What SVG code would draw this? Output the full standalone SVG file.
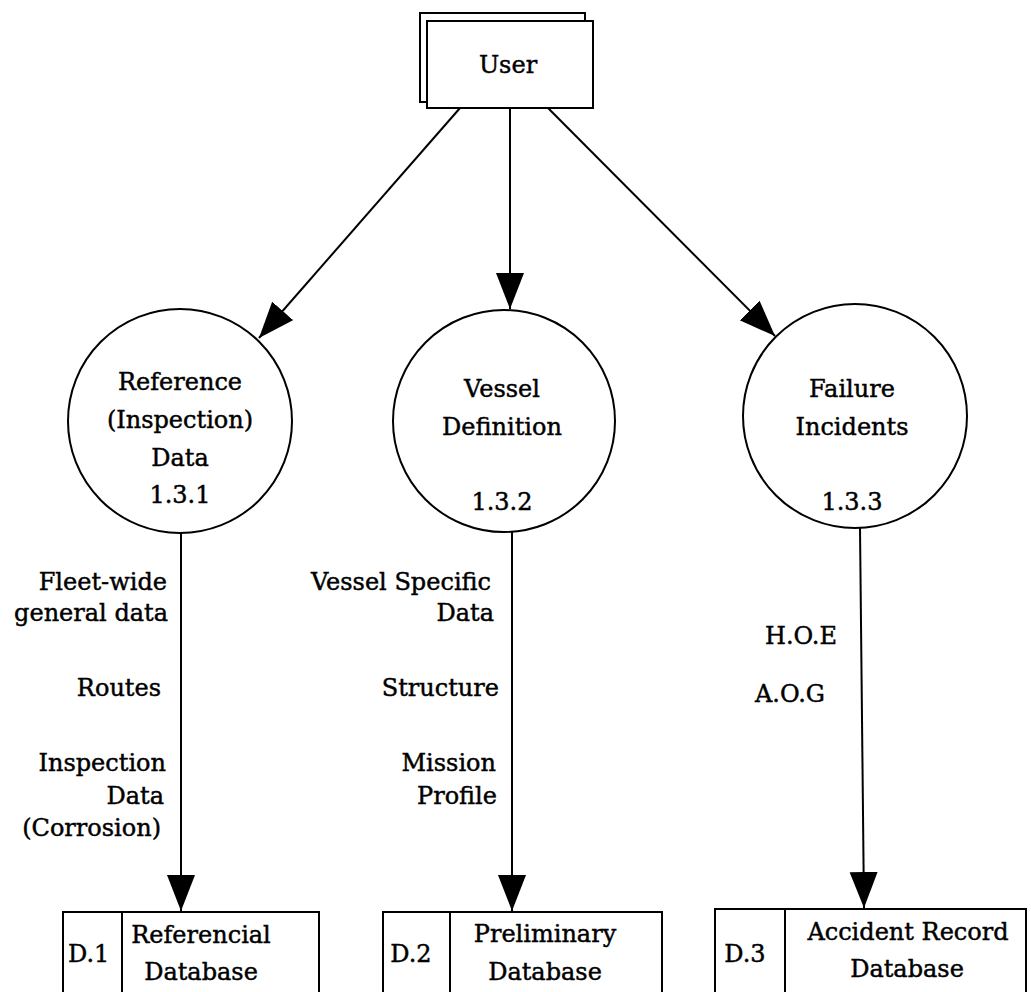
<svg xmlns="http://www.w3.org/2000/svg" width="1031" height="992" viewBox="0 0 1031 992">
<style>
text{font-family:"DejaVu Serif","Liberation Serif",serif;font-size:24px;fill:#000;stroke:#000;stroke-width:0.45}
.c{text-anchor:middle}
.e{text-anchor:end}
.s{fill:#fff;stroke:#000;stroke-width:2}
.ln{stroke:#000;stroke-width:2;fill:none}
</style>
<defs>
<marker id="ah" markerUnits="userSpaceOnUse" markerWidth="38" markerHeight="30" refX="36" refY="14" orient="auto" viewBox="0 0 38 30">
<path d="M0,0 L36,14 L0,28 Z" fill="#000"/>
</marker>
</defs>
<rect width="1031" height="992" fill="#fff"/>
<g id="connectors">
<line class="ln" x1="460" y1="108" x2="259" y2="338" marker-end="url(#ah)"/>
<line class="ln" x1="510" y1="108" x2="510" y2="309" marker-end="url(#ah)"/>
<line class="ln" x1="548" y1="108" x2="775" y2="336" marker-end="url(#ah)"/>
<line class="ln" x1="181" y1="533" x2="181" y2="911" marker-end="url(#ah)"/>
<line class="ln" x1="512" y1="530" x2="512" y2="911" marker-end="url(#ah)"/>
<line class="ln" x1="860" y1="528" x2="864" y2="908" marker-end="url(#ah)"/>
<text class="e" x="167" y="590">Fleet-wide</text>
<text class="e" x="168" y="621">general data</text>
<text class="e" x="161" y="696">Routes</text>
<text class="e" x="166" y="771">Inspection</text>
<text class="e" x="164" y="804">Data</text>
<text class="e" x="161" y="836">(Corrosion)</text>
<text class="e" x="491" y="590">Vessel Specific</text>
<text class="e" x="494" y="621">Data</text>
<text class="e" x="499" y="696">Structure</text>
<text class="e" x="496" y="771">Mission</text>
<text class="e" x="497" y="804">Profile</text>
<text x="765" y="644">H.O.E</text>
<text x="755" y="702">A.O.G</text>
</g>
<g id="user">
<rect class="s" x="420" y="13" width="165" height="89"/>
<rect class="s" x="427" y="21" width="166" height="87"/>
<text class="c" x="508" y="73">User</text>
</g>
<g id="p131">
<circle class="s" cx="180" cy="421" r="112"/>
<text class="c" x="180" y="390">Reference</text>
<text class="c" x="180" y="428">(Inspection)</text>
<text class="c" x="180" y="466">Data</text>
<text class="c" x="180" y="503">1.3.1</text>
</g>
<g id="p132">
<circle class="s" cx="504" cy="421" r="111"/>
<text class="c" x="502" y="397">Vessel</text>
<text class="c" x="502" y="435">Definition</text>
<text class="c" x="502" y="510">1.3.2</text>
</g>
<g id="p133">
<circle class="s" cx="855" cy="416" r="112"/>
<text class="c" x="852" y="397">Failure</text>
<text class="c" x="852" y="435">Incidents</text>
<text class="c" x="852" y="510">1.3.3</text>
</g>
<g id="d1">
<rect class="s" x="63" y="912" width="256" height="100"/>
<line class="ln" x1="122" y1="912" x2="122" y2="992"/>
<text x="68" y="962">D.1</text>
<text class="c" x="201" y="943">Referencial</text>
<text class="c" x="201" y="980">Database</text>
</g>
<g id="d2">
<rect class="s" x="383" y="912" width="279" height="100"/>
<line class="ln" x1="450" y1="912" x2="450" y2="992"/>
<text class="c" x="411" y="962">D.2</text>
<text class="c" x="545" y="942">Preliminary</text>
<text class="c" x="545" y="980">Database</text>
</g>
<g id="d3">
<rect class="s" x="715" y="909" width="311" height="100"/>
<line class="ln" x1="785" y1="909" x2="785" y2="992"/>
<text class="c" x="745" y="962">D.3</text>
<text class="c" x="908" y="940">Accident Record</text>
<text class="c" x="907" y="977">Database</text>
</g>
</svg>
